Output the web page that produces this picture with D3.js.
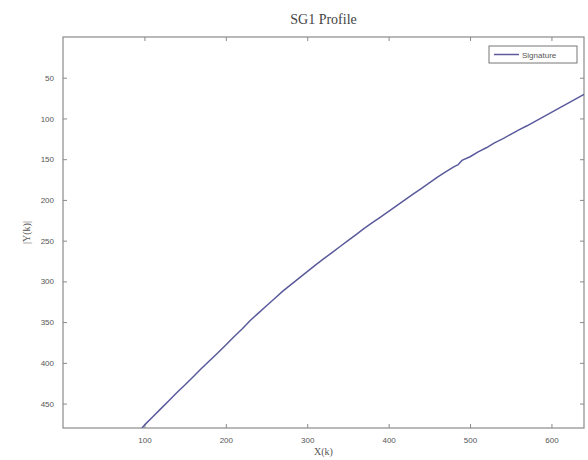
<!DOCTYPE html>
<html>
<head>
<meta charset="utf-8">
<script src="https://cdn.jsdelivr.net/npm/d3@7"></script>
<style>
  body { margin: 0; background: #fff; }
  svg { display: block; }
</style>
</head>
<body>
<svg id="chart" width="588" height="460"></svg>
<script>
const xTicks = [100, 200, 300, 400, 500, 600];
const yTicks = [50, 100, 150, 200, 250, 300, 350, 400, 450];
const xVals = [97, 100, 110, 120, 130, 140, 150, 160, 170, 180, 190, 200, 210, 220, 230, 240, 250, 260, 270, 280, 290, 300, 310, 320, 330, 340, 350, 360, 370, 380, 390, 400, 410, 420, 430, 440, 450, 460, 470, 480, 485, 490, 500, 510, 520, 530, 540, 550, 560, 570, 580, 590, 600, 610, 620, 630, 640];
const yVals = [480, 476.5, 466.5, 456.5, 446.5, 436.5, 427, 417, 407, 397.5, 388, 378, 368, 358.5, 348, 339, 330, 321, 312, 304, 296, 288, 280, 272.5, 265, 257.5, 250, 242.5, 235, 228, 221, 214, 207, 200, 193, 186, 179, 172, 165.5, 159.5, 157, 151.5, 147, 141, 136, 130, 125, 119.5, 114, 109, 103.5, 98, 92.5, 87, 81.5, 76, 70.5];
const seriesName = "Signature";
const title = "SG1 Profile";
const xLabel = "X(k)";
const yLabel = "|Y(k)|";

const svg = d3.select("#chart");
const m = { left: 63, right: 4, top: 37, bottom: 32 };
const W = 588, H = 460;
const x = d3.scaleLinear().domain([0, 640]).range([m.left, W - m.right]);
const y = d3.scaleLinear().domain([0, 480]).range([m.top, H - m.bottom]);

const axisColor = "#8a8a8a";
const textColor = "#555";

// frame
svg.append("rect")
  .attr("x", x(0)).attr("y", y(0))
  .attr("width", x(640) - x(0)).attr("height", y(480) - y(0))
  .attr("fill", "#fff").attr("stroke", axisColor).attr("stroke-width", 1.2);

function styleAxis(g, showText) {
  g.select(".domain").remove();
  g.selectAll(".tick line").attr("stroke", axisColor).attr("stroke-width", 1);
  g.selectAll(".tick text").attr("fill", textColor)
    .style("font-family", "Liberation Sans, Arial, sans-serif").style("font-size", "8px");
  if (!showText) g.selectAll(".tick text").remove();
}

// bottom
svg.append("g").attr("transform", `translate(0,${y(480)})`)
  .call(d3.axisBottom(x).tickValues(xTicks).tickSize(-4).tickPadding(9))
  .call(g => styleAxis(g, true));
// top
svg.append("g").attr("transform", `translate(0,${y(0)})`)
  .call(d3.axisTop(x).tickValues(xTicks).tickSize(-4))
  .call(g => styleAxis(g, false));
// left
svg.append("g").attr("transform", `translate(${x(0)},0)`)
  .call(d3.axisLeft(y).tickValues(yTicks).tickSize(-4).tickPadding(9))
  .call(g => styleAxis(g, true));
// right
svg.append("g").attr("transform", `translate(${x(640)},0)`)
  .call(d3.axisRight(y).tickValues(yTicks).tickSize(-4))
  .call(g => styleAxis(g, false));

// clip
svg.append("clipPath").attr("id", "clip").append("rect")
  .attr("x", x(0)).attr("y", y(0))
  .attr("width", x(640) - x(0)).attr("height", y(480) - y(0));

const data = xVals.map((v, i) => [v, yVals[i]]);
svg.append("path")
  .datum(data)
  .attr("clip-path", "url(#clip)")
  .attr("fill", "none")
  .attr("stroke", "#5a5a9c")
  .attr("stroke-width", 1.5)
  .attr("stroke-linejoin", "round")
  .attr("d", d3.line().x(d => x(d[0])).y(d => y(d[1])));

// title
svg.append("text")
  .attr("x", (x(0) + x(640)) / 2).attr("y", 24)
  .attr("text-anchor", "middle")
  .attr("fill", "#444")
  .style("font-family", "Liberation Serif, DejaVu Serif, serif")
  .style("font-size", "14px")
  .text(title);

// x label
svg.append("text")
  .attr("x", (x(0) + x(640)) / 2).attr("y", 455)
  .attr("text-anchor", "middle")
  .attr("fill", textColor)
  .style("font-family", "Liberation Serif, DejaVu Serif, serif")
  .style("font-size", "10px")
  .text(xLabel);

// y label
svg.append("text")
  .attr("transform", `translate(30,${(y(0) + y(480)) / 2}) rotate(-90)`)
  .attr("text-anchor", "middle")
  .attr("fill", textColor)
  .style("font-family", "Liberation Serif, DejaVu Serif, serif")
  .style("font-size", "10px")
  .text(yLabel);

// legend
const lg = svg.append("g").attr("transform", "translate(489,46)");
lg.append("rect").attr("width", 88).attr("height", 17)
  .attr("fill", "#fff").attr("stroke", "#777").attr("stroke-width", 1);
lg.append("line").attr("x1", 5).attr("x2", 30).attr("y1", 8.5).attr("y2", 8.5)
  .attr("stroke", "#5a5a9c").attr("stroke-width", 1.5);
lg.append("text").attr("x", 33).attr("y", 11.5)
  .attr("fill", "#555")
  .style("font-family", "Liberation Sans, Arial, sans-serif")
  .style("font-size", "8px")
  .text(seriesName);
</script>
</body>
</html>
